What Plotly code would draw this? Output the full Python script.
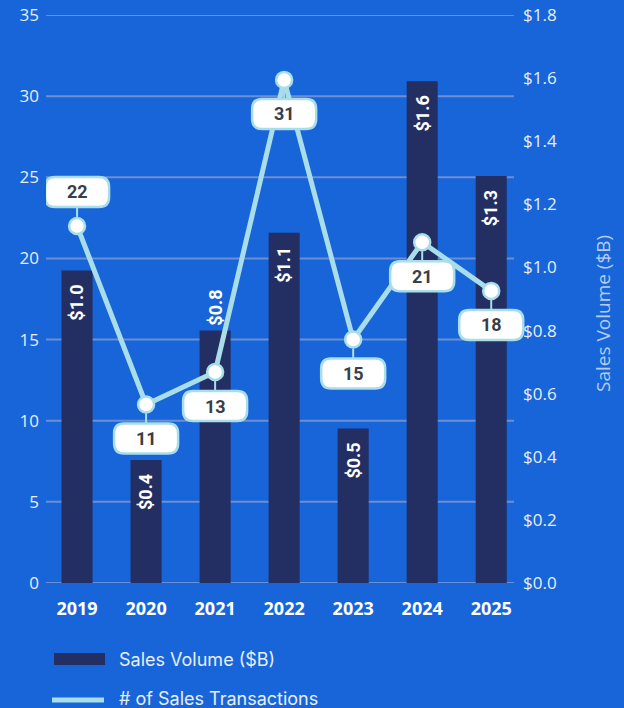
import plotly.graph_objects as go

years = ["2019", "2020", "2021", "2022", "2023", "2024", "2025"]
sales_volume = [0.99, 0.39, 0.80, 1.11, 0.49, 1.59, 1.29]
transactions = [22, 11, 13, 31, 15, 21, 18]
count_ticks = [0, 5, 10, 15, 20, 25, 30, 35]
label_above = [True, False, False, False, False, False, False]
bar_label_outside = [False, False, True, False, False, False, False]

BG = "#1765D8"
NAVY = "#232E63"
LINE = "#A8DDE9"
GRID = "#6C8ED3"
TXT = "#E8EEF9"
NARROW = "Liberation Sans Narrow, Roboto, sans-serif"
TICKFONT = "Open Sans, sans-serif"

W, H = 624, 708
L, R, T, B = 46, 94, 15, 125
PW, PH = W - L - R, H - T - B
GRID_END = 514  # px where gridlines / right axis sit


def px_x(p):
    return (p - L) / PW


def px_y(p):
    return (T + PH - p) / PH


xi = list(range(len(years)))

fig = go.Figure()

fig.add_trace(go.Bar(
    x=xi, y=sales_volume, name="Sales Volume ($B)",
    marker=dict(color=NAVY, line=dict(width=0)), width=0.45,
    yaxis="y", hoverinfo="skip",
))
fig.add_trace(go.Scatter(
    x=xi, y=transactions, name="# of Sales Transactions",
    mode="lines+markers", yaxis="y2",
    line=dict(color=LINE, width=5),
    marker=dict(size=16, color="white", line=dict(color=LINE, width=2.5)),
    hoverinfo="skip",
))

shapes = []
annotations = []

# gridlines (left axis values), ending at the right axis
for v in count_ticks:
    shapes.append(dict(type="line", xref="paper", yref="y2",
                       x0=0, x1=px_x(GRID_END), y0=v, y1=v,
                       line=dict(color=GRID, width=2), layer="below"))

# bar value labels
for i, v, out in zip(xi, sales_volume, bar_label_outside):
    annotations.append(dict(
        x=i, y=v, xref="x", yref="y", text=f"<b>${v:.1f}</b>",
        textangle=-90, showarrow=False, yanchor="middle",
        yshift=23 if out else -32,
        font=dict(family=NARROW, size=18, color="white"),
    ))

# transaction labels in rounded boxes
BW, BH, RAD, OFF = 64, 30, 10, 34
for i, n, up in zip(xi, transactions, label_above):
    cy = OFF if up else -OFF
    x0, x1 = -BW / 2, BW / 2
    y0, y1 = cy - BH / 2, cy + BH / 2
    rect = (f"M {x0+RAD},{y0} L {x1-RAD},{y0} Q {x1},{y0} {x1},{y0+RAD} "
            f"L {x1},{y1-RAD} Q {x1},{y1} {x1-RAD},{y1} L {x0+RAD},{y1} "
            f"Q {x0},{y1} {x0},{y1-RAD} L {x0},{y0+RAD} Q {x0},{y0} {x0+RAD},{y0} Z")
    c0, c1 = (9, y0) if up else (-9, y1)
    shapes.append(dict(
        type="path", xref="x", yref="y2", xsizemode="pixel", ysizemode="pixel",
        xanchor=i, yanchor=n, path=f"M 0,{c0} L 0,{c1}",
        line=dict(color=LINE, width=2), layer="above",
    ))
    shapes.append(dict(
        type="path", xref="x", yref="y2", xsizemode="pixel", ysizemode="pixel",
        xanchor=i, yanchor=n, path=rect, fillcolor="white",
        line=dict(color=LINE, width=2.5), layer="above",
    ))
    annotations.append(dict(
        x=i, y=n, xref="x", yref="y2", text=f"<b>{n}</b>", showarrow=False,
        yshift=cy, font=dict(family=NARROW, size=18, color="#3A3E45"),
    ))

# right axis title
annotations.append(dict(
    x=px_x(603), y=px_y(314), xref="paper", yref="paper",
    xanchor="center", yanchor="middle",
    text="Sales Volume ($B)", textangle=-90, showarrow=False,
    font=dict(family=TICKFONT, size=19, color="#B4CCF2"),
))

# manual legend
shapes.append(dict(type="rect", xref="paper", yref="paper",
                   x0=px_x(54), x1=px_x(105), y0=px_y(665), y1=px_y(653),
                   fillcolor=NAVY, line=dict(width=0)))
shapes.append(dict(type="line", xref="paper", yref="paper",
                   x0=px_x(52), x1=px_x(104), y0=px_y(700), y1=px_y(700),
                   line=dict(color=LINE, width=5)))
annotations.append(dict(x=px_x(117), y=px_y(659), xref="paper", yref="paper",
                        xanchor="left", yanchor="middle",
                        text="Sales Volume ($B)", showarrow=False,
                        font=dict(family="Inter, sans-serif", size=18, color=TXT)))
annotations.append(dict(x=px_x(117), y=px_y(698), xref="paper", yref="paper",
                        xanchor="left", yanchor="middle",
                        text="# of Sales Transactions", showarrow=False,
                        font=dict(family="Inter, sans-serif", size=18, color=TXT)))

unit_px = (GRID_END - L) / (6.33 + 0.45)
x_hi = -0.45 + PW / unit_px

fig.update_layout(
    width=W, height=H, margin=dict(l=L, r=R, t=T, b=B, autoexpand=False),
    paper_bgcolor=BG, plot_bgcolor=BG, showlegend=False,
    shapes=shapes, annotations=annotations,
    xaxis=dict(range=[-0.45, x_hi], tickvals=xi, ticktext=years, showgrid=False,
               showline=False, zeroline=False, ticks="", automargin=False,
               tickfont=dict(family=TICKFONT, size=18, color="white", weight="bold"),
               ticklabelstandoff=13),
    yaxis=dict(side="right", anchor="free", position=px_x(GRID_END),
               range=[0, 1.8], dtick=0.2, tickformat=".1f",
               tickprefix="$", showgrid=False, zeroline=False, ticks="",
               automargin=False, showline=False,
               tickfont=dict(family=TICKFONT, size=17, color=TXT),
               ticklabelstandoff=8),
    yaxis2=dict(side="left", overlaying="y", range=[0, 35], tickvals=count_ticks,
                showgrid=False, zeroline=False,
                ticks="", automargin=False,
                tickfont=dict(family=TICKFONT, size=17, color=TXT),
                ticklabelstandoff=6),
)

fig.write_html("out.html")
